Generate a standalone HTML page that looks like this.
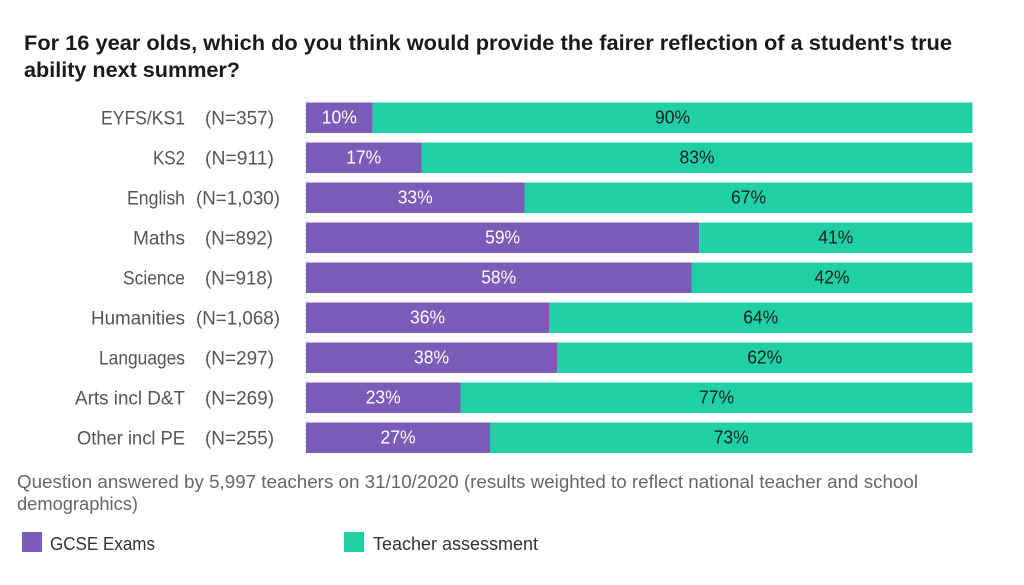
<!DOCTYPE html>
<html><head><meta charset="utf-8"><style>
html,body{margin:0;padding:0;background:#fff;}
svg{display:block;}
text{font-family:"Liberation Sans",sans-serif;}
</style></head><body>
<svg width="1024" height="585" viewBox="0 0 1024 585" xmlns="http://www.w3.org/2000/svg">
<rect width="1024" height="585" fill="#fff"/>
<g fill="#1a1a1a" font-weight="bold" font-size="21">
<text x="24" y="50" textLength="928" lengthAdjust="spacingAndGlyphs">For 16 year olds, which do you think would provide the fairer reflection of a student's true</text>
<text x="24" y="77" textLength="216" lengthAdjust="spacingAndGlyphs">ability next summer?</text>
</g>
<line x1="306" y1="97" x2="306" y2="458" stroke="#ccc" stroke-width="1" stroke-dasharray="2,2"/>
<g id="bars">
<rect x="306" y="102.5" width="66.6" height="30.5" fill="#7c5cb9"/><rect x="372.6" y="102.5" width="599.9" height="30.5" fill="#20d0a5"/>
<rect x="306" y="142.5" width="115.5" height="30.5" fill="#7c5cb9"/><rect x="421.5" y="142.5" width="551" height="30.5" fill="#20d0a5"/>
<rect x="306" y="182.5" width="218.5" height="30.5" fill="#7c5cb9"/><rect x="524.5" y="182.5" width="448" height="30.5" fill="#20d0a5"/>
<rect x="306" y="222.5" width="393.2" height="30.5" fill="#7c5cb9"/><rect x="699.2" y="222.5" width="273.3" height="30.5" fill="#20d0a5"/>
<rect x="306" y="262.5" width="385.5" height="30.5" fill="#7c5cb9"/><rect x="691.5" y="262.5" width="281" height="30.5" fill="#20d0a5"/>
<rect x="306" y="302.5" width="243" height="30.5" fill="#7c5cb9"/><rect x="549" y="302.5" width="423.5" height="30.5" fill="#20d0a5"/>
<rect x="306" y="342.5" width="251" height="30.5" fill="#7c5cb9"/><rect x="557" y="342.5" width="415.5" height="30.5" fill="#20d0a5"/>
<rect x="306" y="382.5" width="154.5" height="30.5" fill="#7c5cb9"/><rect x="460.5" y="382.5" width="512" height="30.5" fill="#20d0a5"/>
<rect x="306" y="422.5" width="184" height="30.5" fill="#7c5cb9"/><rect x="490" y="422.5" width="482.5" height="30.5" fill="#20d0a5"/>
</g>
<g font-size="18" text-anchor="middle">
<g fill="#fff">
<text x="339.3" y="123.5" textLength="35" lengthAdjust="spacingAndGlyphs">10%</text>
<text x="363.7" y="163.5" textLength="35" lengthAdjust="spacingAndGlyphs">17%</text>
<text x="415.2" y="203.5" textLength="35" lengthAdjust="spacingAndGlyphs">33%</text>
<text x="502.6" y="243.5" textLength="35" lengthAdjust="spacingAndGlyphs">59%</text>
<text x="498.7" y="283.5" textLength="35" lengthAdjust="spacingAndGlyphs">58%</text>
<text x="427.5" y="323.5" textLength="35" lengthAdjust="spacingAndGlyphs">36%</text>
<text x="431.5" y="363.5" textLength="35" lengthAdjust="spacingAndGlyphs">38%</text>
<text x="383.2" y="403.5" textLength="35" lengthAdjust="spacingAndGlyphs">23%</text>
<text x="398" y="443.5" textLength="35" lengthAdjust="spacingAndGlyphs">27%</text>
</g>
<g fill="#1e1e1e">
<text x="672.5" y="123.5" textLength="35" lengthAdjust="spacingAndGlyphs">90%</text>
<text x="697" y="163.5" textLength="35" lengthAdjust="spacingAndGlyphs">83%</text>
<text x="748.5" y="203.5" textLength="35" lengthAdjust="spacingAndGlyphs">67%</text>
<text x="835.8" y="243.5" textLength="35" lengthAdjust="spacingAndGlyphs">41%</text>
<text x="832" y="283.5" textLength="35" lengthAdjust="spacingAndGlyphs">42%</text>
<text x="760.7" y="323.5" textLength="35" lengthAdjust="spacingAndGlyphs">64%</text>
<text x="764.7" y="363.5" textLength="35" lengthAdjust="spacingAndGlyphs">62%</text>
<text x="716.5" y="403.5" textLength="35" lengthAdjust="spacingAndGlyphs">77%</text>
<text x="731.2" y="443.5" textLength="35" lengthAdjust="spacingAndGlyphs">73%</text>
</g>
</g>
<g font-size="19" fill="#555">
<g text-anchor="end">
<text x="185" y="124.5" textLength="84" lengthAdjust="spacingAndGlyphs">EYFS/KS1</text>
<text x="185" y="164.5" textLength="32" lengthAdjust="spacingAndGlyphs">KS2</text>
<text x="185" y="204.5" textLength="58" lengthAdjust="spacingAndGlyphs">English</text>
<text x="185" y="244.5" textLength="52" lengthAdjust="spacingAndGlyphs">Maths</text>
<text x="185" y="284.5" textLength="62" lengthAdjust="spacingAndGlyphs">Science</text>
<text x="185" y="324.5" textLength="94" lengthAdjust="spacingAndGlyphs">Humanities</text>
<text x="185" y="364.5" textLength="86" lengthAdjust="spacingAndGlyphs">Languages</text>
<text x="185" y="404.5" textLength="110" lengthAdjust="spacingAndGlyphs">Arts incl D&amp;T</text>
<text x="185" y="444.5" textLength="108" lengthAdjust="spacingAndGlyphs">Other incl PE</text>
</g>
<text x="205" y="124.5" textLength="69" lengthAdjust="spacingAndGlyphs">(N=357)</text>
<text x="205" y="164.5" textLength="69" lengthAdjust="spacingAndGlyphs">(N=911)</text>
<text x="196" y="204.5" textLength="84" lengthAdjust="spacingAndGlyphs">(N=1,030)</text>
<text x="205" y="244.5" textLength="68" lengthAdjust="spacingAndGlyphs">(N=892)</text>
<text x="205" y="284.5" textLength="68" lengthAdjust="spacingAndGlyphs">(N=918)</text>
<text x="196" y="324.5" textLength="84" lengthAdjust="spacingAndGlyphs">(N=1,068)</text>
<text x="205" y="364.5" textLength="69" lengthAdjust="spacingAndGlyphs">(N=297)</text>
<text x="205" y="404.5" textLength="69" lengthAdjust="spacingAndGlyphs">(N=269)</text>
<text x="205" y="444.5" textLength="69" lengthAdjust="spacingAndGlyphs">(N=255)</text>
</g>
<g font-size="18" fill="#666">
<text x="17" y="488" textLength="901" lengthAdjust="spacingAndGlyphs">Question answered by 5,997 teachers on 31/10/2020 (results weighted to reflect national teacher and school</text>
<text x="17" y="510" textLength="121" lengthAdjust="spacingAndGlyphs">demographics)</text>
</g>
<rect x="22" y="532" width="20" height="20" fill="#7c5cb9"/>
<rect x="344" y="532" width="20" height="20" fill="#20d0a5"/>
<g font-size="18" fill="#333">
<text x="50" y="550" textLength="105" lengthAdjust="spacingAndGlyphs">GCSE Exams</text>
<text x="373" y="550" textLength="165" lengthAdjust="spacingAndGlyphs">Teacher assessment</text>
</g>
</svg>
</body></html>
